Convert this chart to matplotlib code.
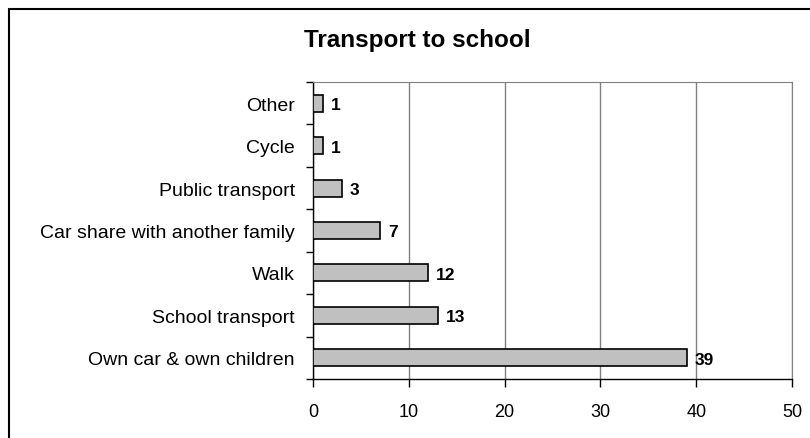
import matplotlib.pyplot as plt
from matplotlib.patches import Rectangle
from matplotlib.ticker import FixedLocator

categories = ["Own car & own children", "School transport", "Walk",
              "Car share with another family", "Public transport", "Cycle", "Other"]
values = [39, 13, 12, 7, 3, 1, 1]
xticks = [0, 10, 20, 30, 40, 50]

plt.rcParams['font.family'] = ['Liberation Sans', 'DejaVu Sans']

fig = plt.figure(figsize=(8.1, 4.39), dpi=100)
fig.patch.set_facecolor('white')
# outer chart frame (only left and top edges fall inside the image)
fig.patches.append(Rectangle((9 / 810, -10 / 439), 820 / 810, 439 / 439,
                             transform=fig.transFigure, fill=False,
                             edgecolor='black', linewidth=1.5))

ax = fig.add_axes([313 / 810, 1 - 380 / 439, 479 / 810, 297 / 439])
ypos = list(range(len(categories)))
ax.barh(ypos, values, height=0.4, color='#c0c0c0', edgecolor='black', linewidth=1.2, zorder=3)

for y, v in zip(ypos, values):
    ax.annotate(str(v), (v, y), xytext=(6, -1), textcoords='offset points',
                va='center', ha='left', fontsize=12.5, fontweight='bold')

ax.set_xlim(0, 50)
ax.set_ylim(-0.5, len(categories) - 0.5)
ax.set_xticks(xticks)
ax.set_xticklabels([str(t) for t in xticks], fontsize=13)
ax.set_yticks(ypos)
ax.set_yticklabels(categories, fontsize=14)
ax.tick_params(axis='y', which='major', length=0, pad=13)
ax.yaxis.set_minor_locator(FixedLocator([i - 0.5 for i in range(len(categories) + 1)]))
ax.tick_params(axis='y', which='minor', length=5, width=1, color='black')
ax.tick_params(axis='x', length=6, width=1, pad=11)

ax.grid(axis='x', color='#808080', linewidth=1, zorder=0)
ax.spines['top'].set_color('#808080')
ax.spines['right'].set_color('#808080')
ax.spines['left'].set_linewidth(1)
ax.spines['bottom'].set_linewidth(1)

fig.text(417 / 810, 1 - 40 / 439, "Transport to school", ha='center', va='center',
         fontsize=17.5, fontweight='bold')

fig.savefig("out.png", dpi=100)
